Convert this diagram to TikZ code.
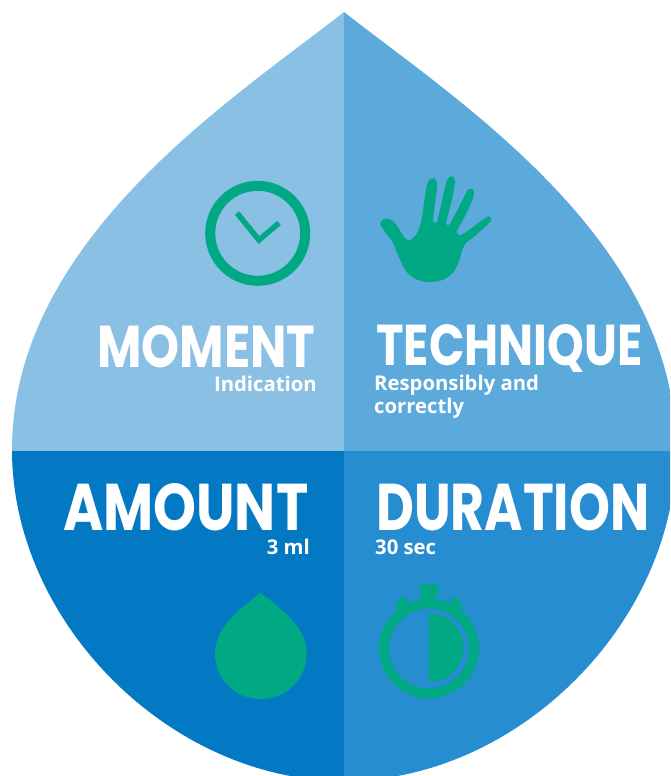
\documentclass[tikz,border=0pt]{standalone}
\usepackage{graphicx}
\usepackage{fontspec}
\setmainfont{Open Sans}
\newfontfamily\brushfont{Poppins}
\definecolor{qtl}{HTML}{89C0E4}
\definecolor{qtr}{HTML}{5CA9DB}
\definecolor{qbl}{HTML}{0379C4}
\definecolor{qbr}{HTML}{268DD0}
\definecolor{iconc}{HTML}{00A984}
\tikzset{
  title/.style={text=white,inner sep=0pt,anchor=base west,font=\brushfont\bfseries},
  sub/.style={text=white,inner sep=0pt,font=\bfseries\fontsize{20.3}{23}\selectfont},
  iconline/.style={draw=iconc,line width=10pt}
}
\newcommand{\dropoutline}{(344,12) .. controls (232,100) and (12,240) .. (12,450)
   .. controls (12,622) and (170,781) .. (344,781)
   .. controls (518,781) and (676,622) .. (676,450)
   .. controls (676,240) and (456,100) .. (344,12) -- cycle}
\newcommand{\brushtitle}[3]{\resizebox{#1pt}{#2pt}{#3}}
\begin{document}
\begin{tikzpicture}[x=1pt,y=-1pt]
\useasboundingbox (0,0) rectangle (670,776);
\begin{scope}
  \clip (0,0) rectangle (670,776);
  \clip \dropoutline;
  \fill[qtl] (0,0) rectangle (344,451);
  \fill[qtr] (344,0) rectangle (680,451);
  \fill[qbl] (0,451) rectangle (344,800);
  \fill[qbr] (344,451) rectangle (680,800);
\end{scope}
% clock
\draw[iconline] (257.7,233.3) circle[radius=47.5];
\draw[draw=iconc,line width=5.5pt,miter limit=10] (237,213) -- (259,240) -- (279,223);
% hand
\fill[iconc] (380,224) .. controls (381,219) and (385,218) .. (389,219)
  .. controls (398,221) and (401,238) .. (408,240)
  .. controls (414,241) and (420,230) .. (422,218)
  .. controls (424,205) and (425,190) .. (428,182)
  .. controls (429,177) and (436,177) .. (437,182)
  .. controls (437,195) and (434,208) .. (433,220)
  .. controls (433,223) and (436,224) .. (437,222)
  .. controls (441,207) and (444,190) .. (447,180)
  .. controls (449,175) and (455,175) .. (455,181)
  .. controls (454,195) and (449,210) .. (446,223)
  .. controls (447,226) and (449,226) .. (450,224)
  .. controls (456,213) and (462,201) .. (467,191)
  .. controls (469,187) and (475,188) .. (474,194)
  .. controls (471,207) and (463,219) .. (457,231)
  .. controls (457,235) and (459,236) .. (461,235)
  .. controls (470,230) and (479,222) .. (487,217)
  .. controls (490,215) and (493,219) .. (490,222)
  .. controls (482,230) and (474,237) .. (467,242)
  .. controls (461,248) and (461,258) .. (457,266)
  .. controls (452,278) and (441,282) .. (430,282)
  .. controls (418,282) and (409,277) .. (404,268)
  .. controls (399,258) and (396,250) .. (393,243)
  .. controls (389,236) and (383,230) .. (380,224) -- cycle;
% small drop
\fill[iconc] (260.7,592.7) .. controls (243,607) and (215,626) .. (215,653)
  .. controls (215,680) and (236,699) .. (260.7,699)
  .. controls (285,699) and (306.7,680) .. (306.7,653)
  .. controls (306.7,626) and (278,607) .. (260.7,592.7) -- cycle;
% stopwatch
\draw[iconline] (429,648.5) circle[radius=45];
\fill[iconc] (429,613.3) arc[start angle=-90,end angle=90,radius=34.5] -- cycle;
\fill[iconc,rounded corners=1.5pt] (419.5,584.3) rectangle (438.7,596);
\fill[iconc] (423,594) rectangle (435,606);
\fill[iconc,rotate around={-30:(402.5,601.5)}] (398.7,597.5) rectangle (406.3,610);
\fill[iconc,rotate around={30:(455.5,601.5)}] (451.7,597.5) rectangle (459.3,610);
% titles
\node[title] (moment) at (97,367) {\brushtitle{218}{42}{MOMENT}};
\node[title] (technique) at (376,365) {\brushtitle{266}{41}{TECHNIQUE}};
\node[title] (amount) at (63,530) {\brushtitle{245}{47}{AMOUNT}};
\node[title] (duration) at (376,530) {\brushtitle{273}{47}{DURATION}};
% subtitles
\node[sub,anchor=base east] (indication) at (317,391) {Indication};
\node[sub,anchor=base west] (resp) at (374,390) {Responsibly and};
\node[sub,anchor=base west] (corr) at (374,413) {correctly};
\node[sub,anchor=base east] (ml) at (310,554) {3 ml};
\node[sub,anchor=base west] (sec) at (375,554) {30 sec};
\end{tikzpicture}
\end{document}
